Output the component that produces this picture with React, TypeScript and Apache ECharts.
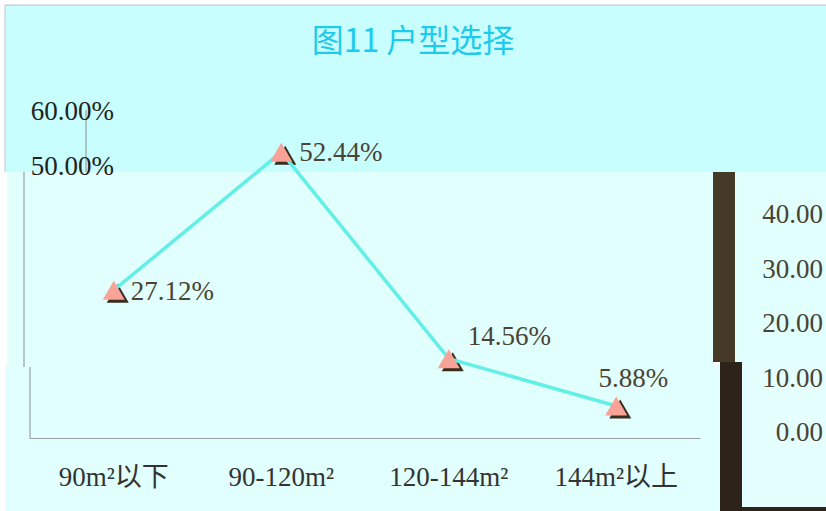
import React, { useEffect, useRef } from 'react';
import * as echarts from 'echarts';

const titleText = '图11 户型选择';
const categories = ['90m²以下', '90-120m²', '120-144m²', '144m²以上'];
const shares = [27.12, 52.44, 14.56, 5.88];
const yMin = 0;
const yMax = 60;
const yInterval = 10;
const rightTickValues = [0, 10, 20, 30, 40];

export default function App() {
  const ref = useRef<HTMLDivElement>(null);

  useEffect(() => {
    const chart = echarts.init(ref.current!, null, { renderer: 'svg' });
    const serif = '"Liberation Serif", "Noto Sans CJK SC", serif';
    const labelColor = '#4a4232';
    const fmt = (v: number) => v.toFixed(2) + '%';
    const labelSpec: any[] = [
      { position: 'right', distance: 6, offset: [0, 1] },
      { position: 'right', distance: 7, offset: [0, 0] },
      { position: 'right', distance: 4, offset: [4, -23] },
      { position: 'top', distance: 5, offset: [17, 0] },
    ];

    const bg = (x: number, y: number, w: number, h: number, fill: string, z = -100) => ({
      type: 'rect', z, silent: true,
      shape: { x, y, width: w, height: h },
      style: { fill, stroke: null },
    });
    const ln = (x1: number, y1: number, x2: number, y2: number, stroke: string, z = -80) => ({
      type: 'line', z, silent: true,
      shape: { x1, y1, x2, y2 },
      style: { stroke, lineWidth: 1 },
    });

    chart.setOption({
      animation: false,
      backgroundColor: '#ffffff',
      title: {
        text: titleText,
        left: 'center',
        top: 17,
        textStyle: { fontSize: 32, fontWeight: 'normal', color: '#1ecbec', fontFamily: '"Noto Sans CJK SC", sans-serif' },
      },
      grid: { left: 30, right: 126, top: 111, bottom: 73, containLabel: false, outerBoundsMode: 'none' },
      graphic: [
        bg(5, 5, 821, 167, '#c8fefe'),
        bg(7, 172, 706, 193, '#e0fffd'),
        bg(5, 365, 715, 146, '#e0fffd'),
        bg(735, 172, 91, 190, '#e0fffd'),
        bg(742, 362, 84, 146, '#e4fffe'),
        bg(713, 172, 22, 190, '#453a28', -90),
        bg(720, 362, 22, 149, '#2e231b', -90),
        bg(742, 507, 84, 4, '#2e231b', -90),
        ln(5, 5, 826, 5, '#b8c0c0'),
        ln(5, 5, 5, 172, '#c0c8c8'),
        ln(86, 110, 86, 172, '#8a9090'),
        ln(24, 172, 24, 367, '#8a9090'),
        ln(30, 367, 30, 438, '#8a9090'),
      ],
      xAxis: {
        type: 'category',
        data: categories,
        boundaryGap: true,
        axisLine: { lineStyle: { color: '#9aa0a0', width: 1 } },
        axisTick: { show: false },
        axisLabel: { fontSize: 27, fontFamily: serif, color: '#333333', margin: 25 },
        splitLine: { show: false },
      },
      yAxis: [
        {
          type: 'value', min: yMin, max: yMax, interval: yInterval,
          axisLine: { show: false }, axisTick: { show: false }, splitLine: { show: false },
          axisLabel: {
            formatter: (v: number) => (v >= 50 ? fmt(v) : ''),
            margin: -84, fontSize: 27, fontFamily: serif, color: '#222222',
          },
        },
        {
          type: 'value', position: 'right', min: yMin - 1.1, max: yMax - 1.1,
          axisLine: { show: false }, axisTick: { show: false }, splitLine: { show: false },
          axisLabel: {
            customValues: rightTickValues,
            formatter: (v: number) => v.toFixed(2),
            margin: 123, align: 'right',
            fontSize: 27, fontFamily: serif, color: labelColor,
          },
        },
      ],
      series: [
        {
          type: 'line',
          name: 'shadow',
          data: shares,
          silent: true,
          z: 1,
          symbol: 'triangle',
          symbolSize: [22, 19],
          symbolOffset: [4, 3],
          lineStyle: { width: 0, opacity: 0 },
          itemStyle: { color: '#3a2c1e' },
          label: { show: false },
        },
        {
          type: 'line',
          name: '户型选择',
          data: shares.map((v, i) => ({
            value: v,
            label: { ...labelSpec[i] },
          })),
          z: 3,
          symbol: 'triangle',
          symbolSize: [22, 19],
          lineStyle: { color: '#62efe6', width: 3.5 },
          itemStyle: { color: '#f9a298' },
          label: {
            show: true,
            formatter: (p: any) => fmt(p.value),
            fontSize: 27,
            fontFamily: serif,
            color: labelColor,
          },
        },
      ],
    });
    return () => chart.dispose();
  }, []);

  return <div ref={ref} style={{ position: 'absolute', left: 0, top: 0, width: 826, height: 511 }} />;
}
